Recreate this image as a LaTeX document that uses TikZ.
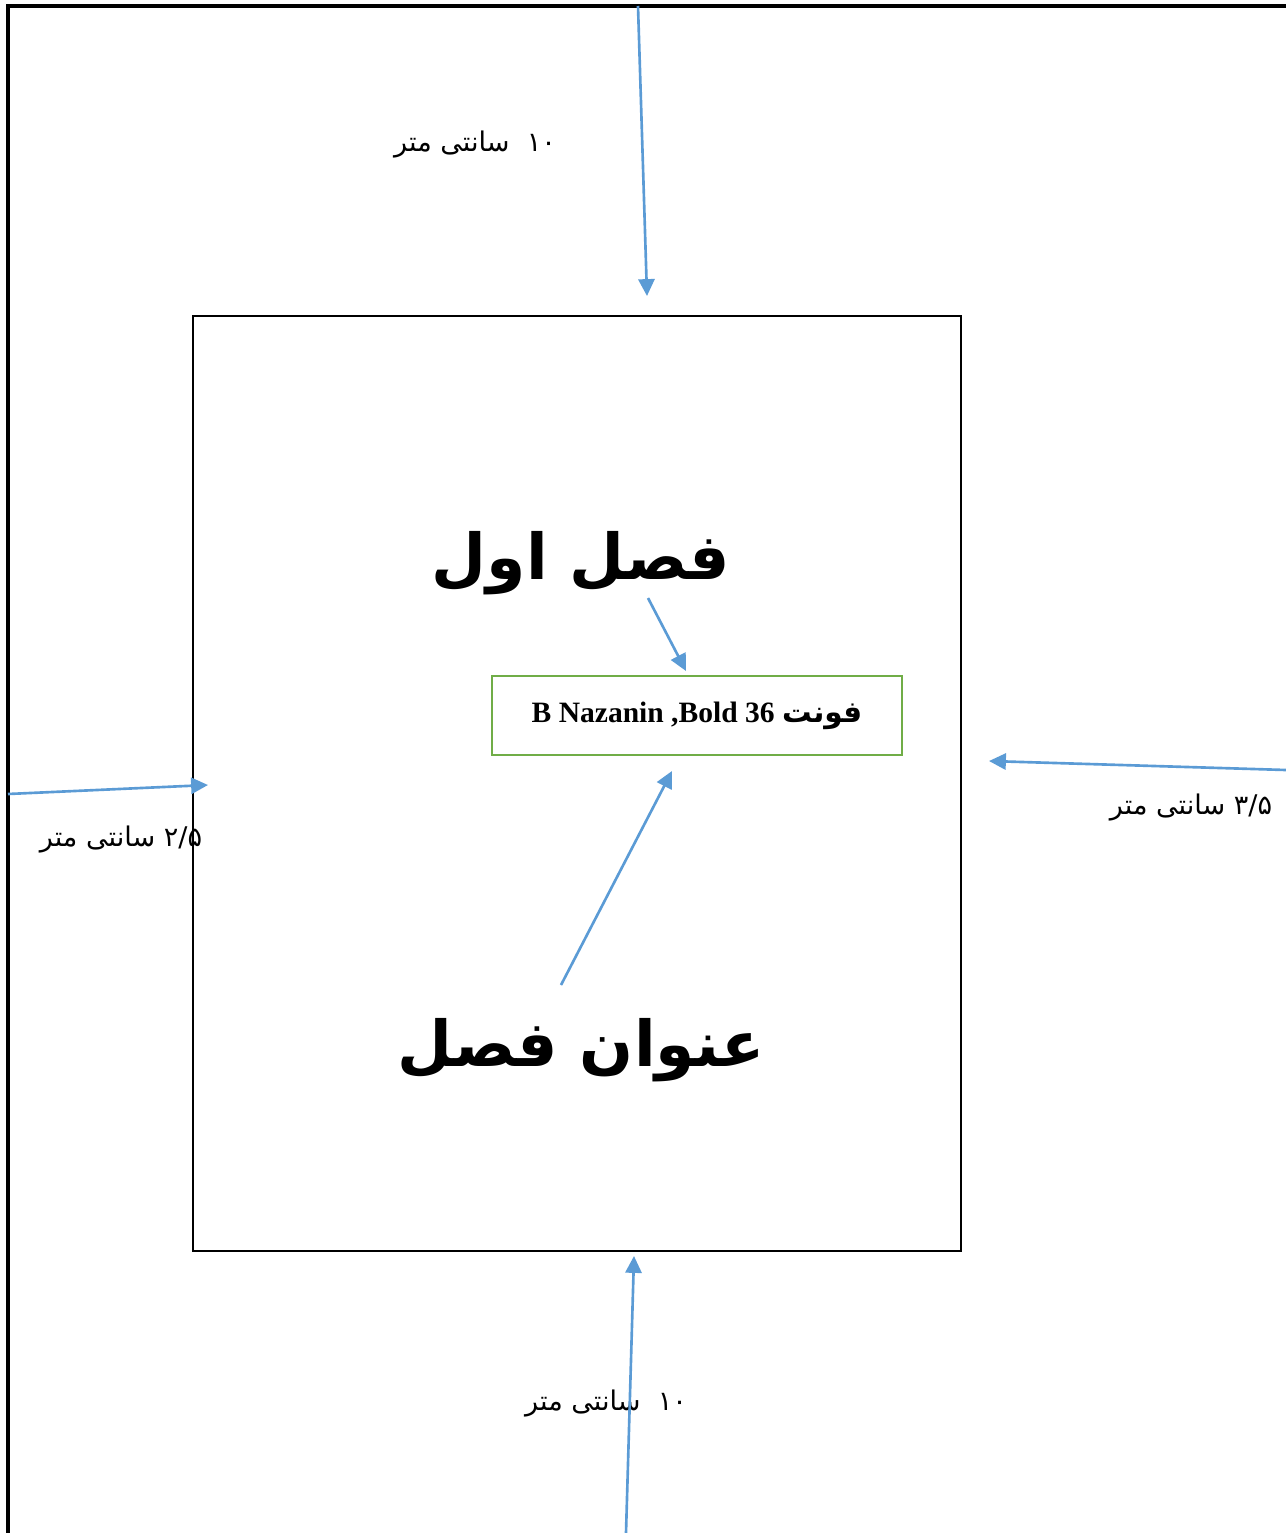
\documentclass[tikz,border=0pt]{standalone}
\usepackage{fontspec}
\setmainfont{Liberation Serif}
\newfontfamily\arabicfont[Script=Arabic]{DejaVu Sans}
\TeXXeTstate=1
\usetikzlibrary{arrows.meta}
\definecolor{arrowblue}{HTML}{5B9BD5}
\definecolor{boxgreen}{HTML}{70AD47}

\begin{document}
\begin{tikzpicture}[x=0.01cm, y=-0.01cm,
		arr/.style={draw=arrowblue, line width=0.75pt, -{Triangle[length=4.8pt, width=4.6pt]}},
		lbl/.style={inner sep=0pt, font=\arabicfont\fontsize{7.7}{9}\selectfont},
		title/.style={inner sep=0pt, font=\arabicfont\bfseries\fontsize{18}{22}\selectfont}]
		\useasboundingbox (0,0) rectangle (1286,1533);
		\draw[line width=1.1pt] (1286,6) -- (8,6) -- (8,1533);
		\node[draw, line width=0.6pt, minimum width=7.68cm, minimum height=9.35cm, inner sep=0pt] (inner) at (577,783.5){};
		\node[draw=boxgreen, line width=0.7pt, minimum width=4.1cm, minimum height=0.79cm, font=\bfseries\fontsize{8.4}{10}\selectfont] (fontbox) at (697,715.5){B Nazanin ,Bold 36 {\arabicfont\beginR فونت\endR}};
		
		\node[title] (chap) at (581,563){\beginR فصل اول\endR};
		\node[title] (chaptitle) at (581,1050){\beginR عنوان فصل\endR};
		
		\node[lbl] (topnote) at (475,145){\beginR ۱۰\ \ سانتی متر\endR};
		\node[lbl] (rightnote) at (1191,808){\beginR ۳/۵ سانتی متر\endR};
		\node[lbl] (leftnote) at (121,840){\beginR ۲/۵ سانتی متر\endR};
		\node[lbl] (bottomnote) at (606,1404){\beginR ۱۰\ \ سانتی متر\endR};
		
		\coordinate (topA) at (638,6);
		\coordinate (topB) at (647,296);
		\coordinate (leftA) at (8,794);
		\coordinate (leftB) at (208,785);
		\coordinate (rightA) at (1286,770);
		\coordinate (rightB) at (989,761);
		\coordinate (bottomA) at (626,1533);
		\coordinate (bottomB) at (634,1256);
		\coordinate (chapA) at (648,598);
		\coordinate (chapB) at (686,671);
		\coordinate (titleA) at (561,985);
		\coordinate (titleB) at (672,771);
		
		\path (topA) edge[arr] (topB);
		\path (leftA) edge[arr] (leftB);
		\path (rightA) edge[arr] (rightB);
		\path (bottomA) edge[arr] (bottomB);
		\path (chapA) edge[arr] (chapB);
		\path (titleA) edge[arr] (titleB);
\end{tikzpicture}
\end{document}
